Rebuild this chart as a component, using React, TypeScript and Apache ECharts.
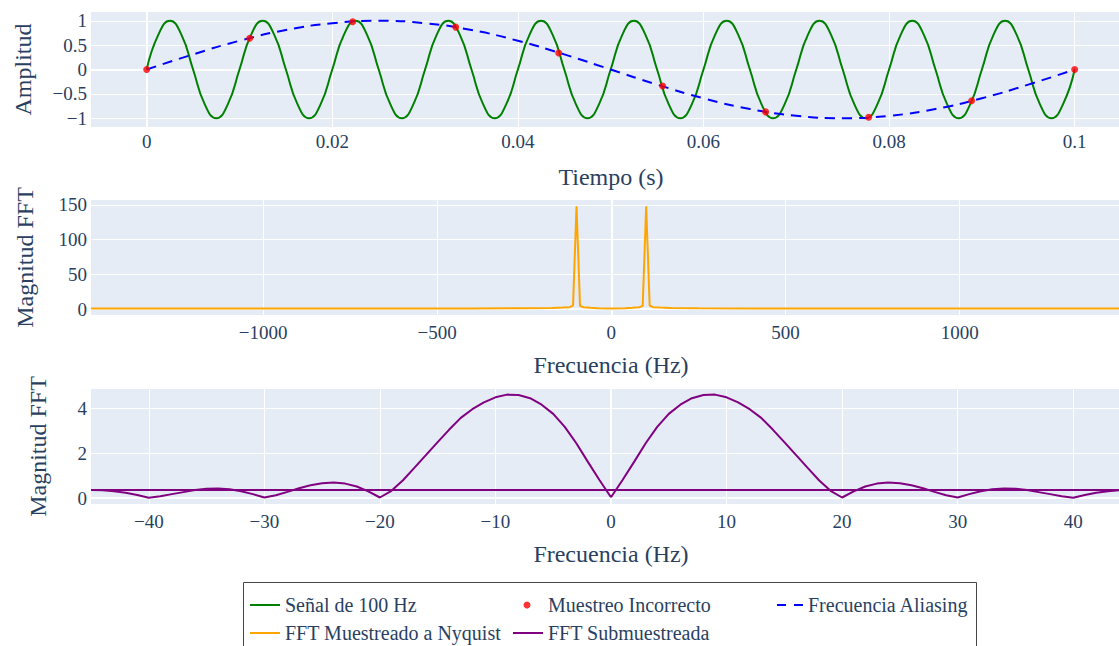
import React, { useEffect, useRef } from "react";
import * as echarts from "echarts";

const FONT = "Liberation Serif";
const TXT = "#2a3f5f";
const BG = "#E5ECF6";

// ---- Tick labels ----
const timeTicks = [0, 0.02, 0.04, 0.06, 0.08, 0.1];
const ampTicks = [-1, -0.5, 0, 0.5, 1];
const nyqFreqTicks = [-1000, -500, 0, 500, 1000];
const nyqMagTicks = [0, 50, 100, 150];
const subFreqTicks = [-40, -30, -20, -10, 0, 10, 20, 30, 40];
const subMagTicks = [0, 2, 4];

// ---- Panel 1: time signals ----
const signalStep = 0.00125;
const signalValues = [
  0, 0.71, 1, 0.71, 0, -0.71, -1, -0.71,
  0, 0.71, 1, 0.71, 0, -0.71, -1, -0.71,
  0, 0.71, 1, 0.71, 0, -0.71, -1, -0.71,
  0, 0.71, 1, 0.71, 0, -0.71, -1, -0.71,
  0, 0.71, 1, 0.71, 0, -0.71, -1, -0.71,
  0, 0.71, 1, 0.71, 0, -0.71, -1, -0.71,
  0, 0.71, 1, 0.71, 0, -0.71, -1, -0.71,
  0, 0.71, 1, 0.71, 0, -0.71, -1, -0.71,
  0, 0.71, 1, 0.71, 0, -0.71, -1, -0.71,
  0, 0.71, 1, 0.71, 0, -0.71, -1, -0.71,
  0,
];
const sampleTimes = [0, 0.0111, 0.0222, 0.0333, 0.0444, 0.0556, 0.0667, 0.0778, 0.0889, 0.1];
const sampleValues = [0, 0.64, 0.98, 0.87, 0.34, -0.34, -0.87, -0.98, -0.64, 0];
const aliasTimes = [
  0, 0.005, 0.01, 0.015, 0.02, 0.025, 0.03, 0.035, 0.04, 0.045, 0.05,
  0.055, 0.06, 0.065, 0.07, 0.075, 0.08, 0.085, 0.09, 0.095, 0.1,
];
const aliasValues = [
  0, 0.31, 0.59, 0.81, 0.95, 1, 0.95, 0.81, 0.59, 0.31, 0,
  -0.31, -0.59, -0.81, -0.95, -1, -0.95, -0.81, -0.59, -0.31, 0,
];

// ---- Panel 2: FFT at Nyquist ----
const nyqFreqs = [-1494, -400, -250, -170, -140, -120, -110, -100, -90, -80, -60, -40, 0, 40, 60, 80, 90, 100, 110, 120, 140, 170, 250, 400, 1492];
const nyqMags = [0.6, 0.8, 1.1, 1.5, 2, 2.6, 5, 148, 4.5, 2.6, 1.8, 1.2, 0.8, 1.2, 1.8, 2.6, 4.5, 148, 5, 2.6, 2, 1.5, 1.1, 0.8, 0.6];

// ---- Panel 3: FFT undersampled (fft order: positive then negative) ----
const subPosFreqs = [
  0, 1, 2, 3, 4, 5, 6, 7, 8, 9, 10, 11, 12, 13, 14, 15, 16, 17, 18, 19, 20, 21, 22,
  23, 24, 25, 26, 27, 28, 29, 30, 31, 32, 33, 34, 35, 36, 37, 38, 39, 40, 41, 42, 43, 44, 45,
];
const subPosMags = [
  0.04, 0.81, 1.62, 2.45, 3.18, 3.76, 4.17, 4.46, 4.6, 4.62, 4.5, 4.27, 3.97, 3.58, 3.06, 2.5,
  1.93, 1.36, 0.8, 0.33, 0.03, 0.3, 0.52, 0.65, 0.7, 0.67, 0.58, 0.44, 0.28, 0.13, 0.03, 0.18,
  0.31, 0.4, 0.43, 0.42, 0.36, 0.27, 0.18, 0.09, 0.02, 0.14, 0.24, 0.31, 0.35, 0.36,
];
const subNegFreqs = [
  -45, -44, -43, -42, -41, -40, -39, -38, -37, -36, -35, -34, -33, -32, -31, -30, -29, -28, -27,
  -26, -25, -24, -23, -22, -21, -20, -19, -18, -17, -16, -15, -14, -13, -12, -11, -10, -9, -8,
  -7, -6, -5, -4, -3, -2, -1, 0,
];
const subNegMags = [
  0.36, 0.35, 0.31, 0.24, 0.14, 0.02, 0.09, 0.18, 0.27, 0.36, 0.42, 0.43, 0.4, 0.31, 0.18, 0.03,
  0.13, 0.28, 0.44, 0.58, 0.67, 0.7, 0.65, 0.52, 0.3, 0.03, 0.33, 0.8, 1.36, 1.93, 2.5, 3.06,
  3.58, 3.97, 4.27, 4.5, 4.62, 4.6, 4.46, 4.17, 3.76, 3.18, 2.45, 1.62, 0.81, 0.04,
];

const legendNames = [
  "Señal de 100 Hz",
  "Muestreo Incorrecto",
  "Frecuencia Aliasing",
  "FFT Muestreado a Nyquist",
  "FFT Submuestreada",
];

const fmt = (v: number) => String(+Number(v).toFixed(6)).replace("-", "\u2212");

const labelStyle = { fontFamily: FONT, fontSize: 19, color: TXT, fontWeight: "normal", fontStyle: "normal" };

function xAxisDef(grid: number, min: number, max: number, ticks: number[], name: string, margin: number) {
  return {
    type: "value",
    gridIndex: grid,
    min,
    max,
    name,
    nameLocation: "middle",
    nameGap: 38,
    nameMoveOverlap: false,
    nameTextStyle: { fontFamily: FONT, fontSize: 24, color: TXT },
    axisLine: { show: false },
    axisTick: { show: false, customValues: ticks },
    splitLine: { show: true, lineStyle: { color: "#ffffff", width: 1 } },
    axisLabel: { ...labelStyle, margin, customValues: ticks, formatter: fmt },
  };
}

function yAxisDef(grid: number, min: number, max: number, ticks: number[], name: string, gap: number) {
  return {
    type: "value",
    gridIndex: grid,
    min,
    max,
    name,
    nameLocation: "middle",
    nameGap: gap,
    nameMoveOverlap: false,
    nameTextStyle: { fontFamily: FONT, fontSize: 24, color: TXT },
    axisLine: { show: false },
    axisTick: { show: false, customValues: ticks },
    splitLine: { show: true, lineStyle: { color: "#ffffff", width: 1 } },
    axisLabel: { ...labelStyle, margin: 4, customValues: ticks, formatter: fmt },
  };
}

function zeroLines(idx: number) {
  return {
    type: "line",
    xAxisIndex: idx,
    yAxisIndex: idx,
    data: [],
    z: 1,
    silent: true,
    markLine: {
      silent: true,
      z: 1,
      symbol: ["none", "none"],
      label: { show: false },
      lineStyle: { color: "#ffffff", width: 2, type: "solid" },
      data: [{ xAxis: 0 }, { yAxis: 0 }],
    },
  };
}

const legendText = { fontFamily: FONT, fontSize: 20, color: TXT, fontWeight: "normal" };

const legendCommon = {
  orient: "horizontal",
  padding: 0,
  itemWidth: 30,
  itemHeight: 2,
  selectedMode: false,
  symbolKeepAspect: false,
  textStyle: legendText,
};

export default function App() {
  const ref = useRef<HTMLDivElement>(null);
  useEffect(() => {
    if (!ref.current) return;
    const chart = echarts.init(ref.current, undefined, { renderer: "svg" });
    const signalData = signalValues.map((v, i) => [i * signalStep, v]);
    const sampleData = sampleTimes.map((t, i) => [t, sampleValues[i]]);
    const aliasData = aliasTimes.map((t, i) => [t, aliasValues[i]]);
    const nyqData = nyqFreqs.map((f, i) => [f, nyqMags[i]]);
    const subData = [
      ...subPosFreqs.map((f, i) => [f, subPosMags[i]]),
      ...subNegFreqs.map((f, i) => [f, subNegMags[i]]),
    ];

    chart.setOption({
      animation: false,
      backgroundColor: "#ffffff",
      textStyle: { fontFamily: FONT },
      grid: [
        { left: 91, right: 0, top: 12, height: 115, show: true, backgroundColor: BG, borderWidth: 0, containLabel: false },
        { left: 91, right: 0, top: 200, height: 115, show: true, backgroundColor: BG, borderWidth: 0, containLabel: false },
        { left: 91, right: 0, top: 389, height: 115, show: true, backgroundColor: BG, borderWidth: 0, containLabel: false },
      ],
      xAxis: [
        xAxisDef(0, -0.006, 0.10607, timeTicks, "Tiempo (s)", 5),
        xAxisDef(1, -1494, 1492, nyqFreqTicks, "Frecuencia (Hz)", 8),
        xAxisDef(2, -45, 45, subFreqTicks, "Frecuencia (Hz)", 8),
      ],
      yAxis: [
        yAxisDef(0, -1.18, 1.18, ampTicks, "Amplitud", 56),
        yAxisDef(1, -8.65, 157.2, nyqMagTicks, "Magnitud FFT", 54),
        yAxisDef(2, -0.26, 4.87, subMagTicks, "Magnitud FFT", 41),
      ],
      legend: [
        { ...legendCommon, data: [{ name: legendNames[0], icon: "rect", textStyle: legendText }], left: 250, top: 595 },
        {
          ...legendCommon,
          data: [{ name: legendNames[1], icon: "circle", textStyle: { ...legendText, padding: [0, 0, 0, 12.5] } }],
          left: 523.5,
          top: 595,
          itemWidth: 7,
          itemHeight: 7,
          symbolKeepAspect: true,
          textStyle: { ...legendText, padding: [0, 0, 0, 12.5] },
        },
        {
          ...legendCommon,
          data: [{ name: legendNames[2], icon: "path://M0,0H9V2H0Z M17,0H26V2H17Z", textStyle: legendText }],
          left: 777,
          top: 595,
          itemWidth: 26,
        },
        { ...legendCommon, data: [{ name: legendNames[3], icon: "rect", textStyle: legendText }], left: 250, top: 623 },
        { ...legendCommon, data: [{ name: legendNames[4], icon: "rect", textStyle: legendText }], left: 513, top: 623 },
      ],
      graphic: [
        {
          type: "rect",
          z: 0,
          silent: true,
          shape: { x: 243.5, y: 582.5, width: 733, height: 100 },
          style: { fill: "#ffffff", stroke: "#444444", lineWidth: 1 },
        },
      ],
      series: [
        zeroLines(0),
        zeroLines(1),
        zeroLines(2),
        {
          type: "line",
          name: legendNames[0],
          xAxisIndex: 0,
          yAxisIndex: 0,
          data: signalData,
          symbol: "none",
          smooth: true,
          z: 2,
          lineStyle: { color: "#008000", width: 2 },
          itemStyle: { color: "#008000" },
        },
        {
          type: "line",
          name: legendNames[2],
          xAxisIndex: 0,
          yAxisIndex: 0,
          data: aliasData,
          symbol: "none",
          smooth: true,
          z: 3,
          lineStyle: { color: "#0000ff", width: 2, type: [10, 7] },
          itemStyle: { color: "#0000ff" },
        },
        {
          type: "scatter",
          name: legendNames[1],
          xAxisIndex: 0,
          yAxisIndex: 0,
          data: sampleData,
          symbol: "circle",
          symbolSize: 7,
          z: 4,
          itemStyle: { color: "#ff0000" },
        },
        {
          type: "line",
          name: legendNames[3],
          xAxisIndex: 1,
          yAxisIndex: 1,
          data: nyqData,
          symbol: "none",
          z: 2,
          lineStyle: { color: "#FFA500", width: 2 },
          itemStyle: { color: "#FFA500" },
        },
        {
          type: "line",
          name: legendNames[4],
          xAxisIndex: 2,
          yAxisIndex: 2,
          data: subData,
          symbol: "none",
          z: 2,
          lineStyle: { color: "#800080", width: 2 },
          itemStyle: { color: "#800080" },
        },
      ],
    });
    return () => chart.dispose();
  }, []);

  return (
    <div style={{ position: "fixed", left: 0, top: 0, width: 1119, height: 646, overflow: "hidden", background: "#ffffff" }}>
      <div ref={ref} style={{ width: 1131, height: 646 }} />
    </div>
  );
}
